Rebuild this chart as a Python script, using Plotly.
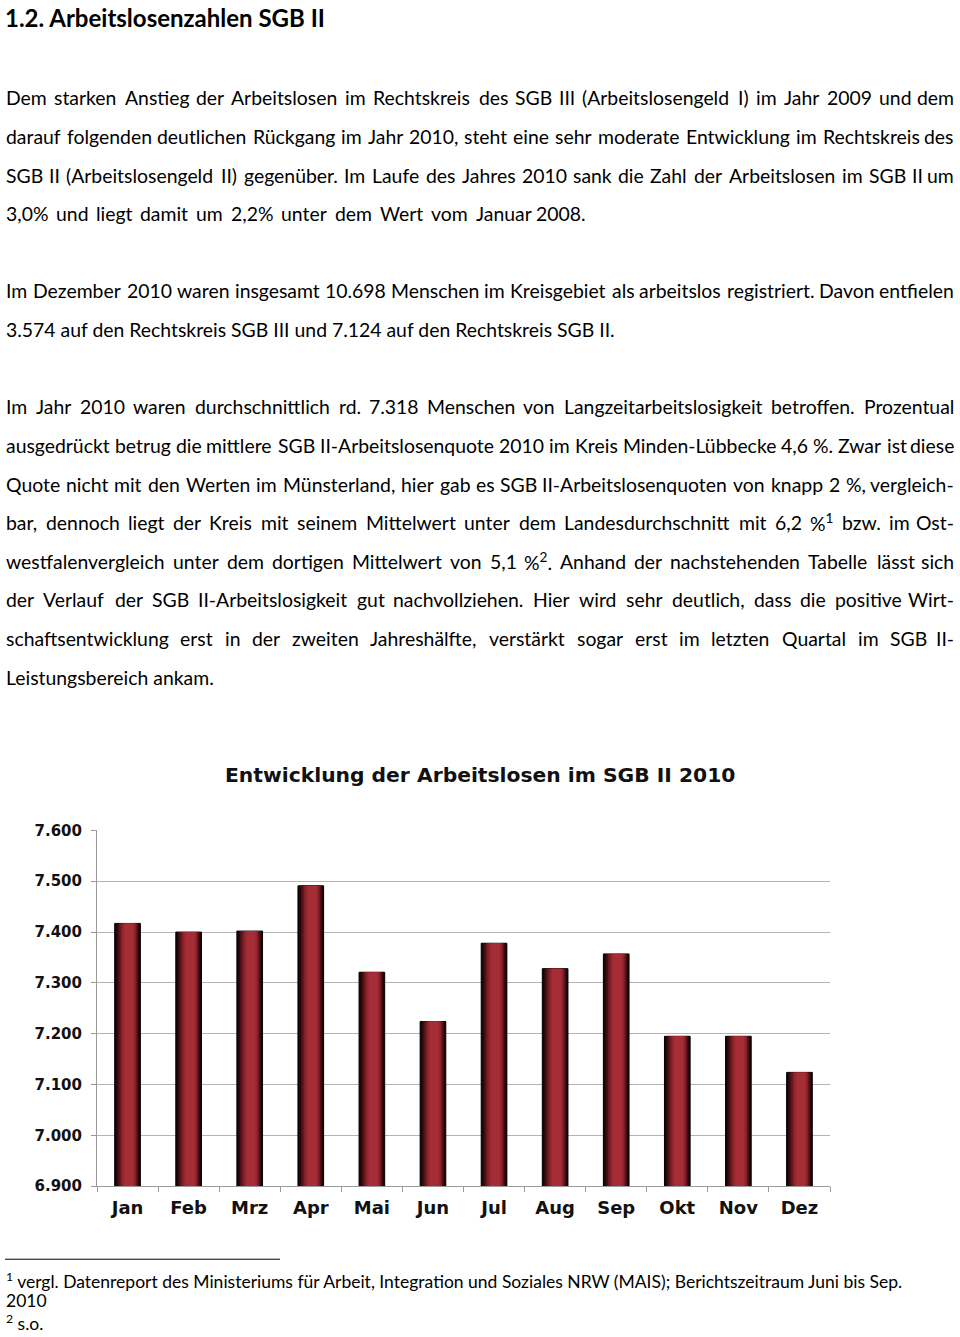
import re
import plotly.graph_objects as go

W, H = 960, 1337

# ---------------- data ----------------
months = ["Jan", "Feb", "Mrz", "Apr", "Mai", "Jun", "Jul", "Aug", "Sep", "Okt", "Nov", "Dez"]
arbeitslose_sgb2 = [7417, 7400, 7402, 7491, 7321, 7224, 7378, 7328, 7357, 7195, 7195, 7124]
y_tickvals = [6900, 7000, 7100, 7200, 7300, 7400, 7500, 7600]
y_ticktext = ["6.900", "7.000", "7.100", "7.200", "7.300", "7.400", "7.500", "7.600"]
chart_title = "Entwicklung der Arbeitslosen im SGB II 2010"

heading = "1.2. Arbeitslosenzahlen SGB II"
# (text, justify target right edge or None)
body_lines = [
    ("Dem starken Anstieg der Arbeitslosen im Rechtskreis des SGB III (Arbeitslosengeld I) im Jahr 2009 und dem", 955),
    ("darauf folgenden deutlichen Rückgang im Jahr 2010, steht eine sehr moderate Entwicklung im Rechtskreis des", 955),
    ("SGB II (Arbeitslosengeld II) gegenüber. Im Laufe des Jahres 2010 sank die Zahl der Arbeitslosen im SGB II um", 955),
    ("3,0% und liegt damit um 2,2% unter dem Wert vom Januar 2008.", 587),
    None,
    ("Im Dezember 2010 waren insgesamt 10.698 Menschen im Kreisgebiet als arbeitslos registriert. Davon entfielen", 955),
    ("3.574 auf den Rechtskreis SGB III und 7.124 auf den Rechtskreis SGB II.", None),
    None,
    ("Im Jahr 2010 waren durchschnittlich rd. 7.318 Menschen von Langzeitarbeitslosigkeit betroffen. Prozentual", 955),
    ("ausgedrückt betrug die mittlere SGB II-Arbeitslosenquote 2010 im Kreis Minden-Lübbecke 4,6 %. Zwar ist diese", 955),
    ("Quote nicht mit den Werten im Münsterland, hier gab es SGB II-Arbeitslosenquoten von knapp 2 %, vergleich-", 955),
    ("bar, dennoch liegt der Kreis mit seinem Mittelwert unter dem Landesdurchschnitt mit 6,2 %<sup>1</sup> bzw. im Ost-", 955),
    ("westfalenvergleich unter dem dortigen Mittelwert von 5,1 %<sup>2</sup>. Anhand der nachstehenden Tabelle lässt sich", 955),
    ("der Verlauf der SGB II-Arbeitslosigkeit gut nachvollziehen. Hier wird sehr deutlich, dass die positive Wirt-", 955),
    ("schaftsentwicklung erst in der zweiten Jahreshälfte, verstärkt sogar erst im letzten Quartal im SGB II-", 955),
    ("Leistungsbereich ankam.", None),
]
footnotes = [
    "<sup>1</sup> vergl. Datenreport des Ministeriums für Arbeit, Integration und Soziales NRW (MAIS); Berichtszeitraum Juni bis Sep.",
    "2010",
    "<sup>2</sup> s.o.",
]

# ---------------- helpers ----------------
# the page photo shows the figure slightly shifted/compressed vertically;
# positions below are given in target-picture pixels and converted here.
SY, OY = 0.987, 8.2


def px(x):
    return x / W


def py(y):
    return 1 - ((y - OY) / SY) / H


LOWER = dict(a=.50, b=.56, c=.47, d=.56, e=.53, f=.33, g=.51, h=.56, i=.24, j=.24, k=.51, l=.24,
             m=.84, n=.56, o=.57, p=.56, q=.56, r=.37, s=.43, t=.36, u=.56, v=.52, w=.78, x=.49,
             y=.52, z=.46)
UPPER = dict(A=.68, B=.64, C=.67, D=.75, E=.57, F=.55, G=.72, H=.75, I=.28, J=.39, K=.66, L=.50,
             M=.90, N=.75, O=.79, P=.59, Q=.79, R=.63, S=.52, T=.59, U=.72, V=.68, W=1.0, X=.66,
             Y=.63, Z=.61)
OTHER = {".": .21, ",": .22, "%": .84, "(": .30, ")": .30, "-": .36, ";": .22, " ": .19,
         "ü": .56, "ä": .50, "ö": .57, "Ü": .72}


def char_w(ch):
    if ch in LOWER:
        return LOWER[ch]
    if ch in UPPER:
        return UPPER[ch]
    if ch.isdigit():
        return .58
    return OTHER.get(ch, .5)


def text_w(s, size):
    total = 0.0
    parts = re.split(r"(<sup>.*?</sup>)", s)
    for p in parts:
        if p.startswith("<sup>"):
            inner = p[5:-6]
            total += sum(char_w(c) for c in inner) * size * 0.7
        else:
            total += sum(char_w(c) for c in p) * size
    return total


BODY_FONT = dict(family="Lato, 'Open Sans', sans-serif", size=19.4, color="#000000")
LEFT = 5

annotations = []


def add_text(text, x, y, font, xanchor="left"):
    annotations.append(dict(text=text, x=px(x), y=py(y), xref="paper", yref="paper",
                            xanchor=xanchor, yanchor="middle", showarrow=False,
                            font=font, borderpad=0))


# heading
add_text(heading, 4, 17, dict(family="Lato, sans-serif", size=24, color="#000000", weight="bold"))

# body lines
y0, step = 97, 38.65
row = 0
for item in body_lines:
    y = y0 + row * step
    row += 1
    if item is None:
        continue
    text, right = item
    if right is None:
        add_text(text, LEFT, y, BODY_FONT)
        continue
    words = text.split(" ")
    widths = [text_w(w, BODY_FONT["size"]) for w in words]
    gap = (right - LEFT - sum(widths)) / (len(words) - 1)
    xpos = LEFT
    for i, w in enumerate(words):
        if i == len(words) - 1:
            add_text(w, right, y, BODY_FONT, xanchor="right")
        else:
            add_text(w, xpos, y, BODY_FONT)
        xpos += widths[i] + gap

# footnotes
FOOT_FONT = dict(family="Lato, sans-serif", size=17.5, color="#000000")
for t, y in zip(footnotes, [1280, 1300.5, 1322]):
    add_text(t, LEFT, y, FOOT_FONT)

CHART_FONT = "DejaVu Sans, Liberation Sans, Arial, sans-serif"
# chart title
add_text(chart_title, 480, 775,
         dict(family=CHART_FONT, size=20.3, color="#111111", weight="bold"),
         xanchor="center")

# ---------------- chart ----------------
fig = go.Figure()

bar_w = 0.42
# (left fraction, right fraction, colour) – simulated cylinder shading
layers = [
    (0.00, 1.00, "#150506"),
    (0.06, 0.95, "#2c090c"),
    (0.12, 0.91, "#4a1015"),
    (0.18, 0.87, "#67171d"),
    (0.24, 0.83, "#822027"),
    (0.30, 0.79, "#96262e"),
    (0.37, 0.73, "#a42d36"),
]
for k, (l, r, c) in enumerate(layers):
    fig.add_trace(go.Bar(
        x=months, y=arbeitslose_sgb2,
        width=bar_w * (r - l), offset=-bar_w / 2 + bar_w * l,
        marker=dict(color=c, line=dict(color="#000000", width=1 if k == 0 else 0)),
        showlegend=False, hoverinfo="x+y" if k == 0 else "skip",
    ))

fig.update_layout(
    width=W, height=H,
    margin=dict(l=0, r=0, t=0, b=0),
    paper_bgcolor="white", plot_bgcolor="white",
    barmode="overlay",
    annotations=annotations,
    shapes=[dict(type="line", xref="paper", yref="paper",
                 x0=px(5), x1=px(280), y0=py(1259), y1=py(1259),
                 line=dict(color="#000000", width=1))],
    xaxis=dict(domain=[px(97), px(830)], showline=True, linecolor="#9a9a9a", linewidth=1,
               ticks="outside", tickson="boundaries", ticklen=5, tickcolor="#9a9a9a",
               showgrid=False, zeroline=False,
               tickfont=dict(family=CHART_FONT, size=18, color="#111111", weight="bold"),
               ticklabelstandoff=5),
    yaxis=dict(domain=[py(1186), py(830)], range=[6900, 7600],
               tickvals=y_tickvals, ticktext=y_ticktext,
               showline=True, linecolor="#9a9a9a", linewidth=1,
               showgrid=True, gridcolor="#b4b4b4", gridwidth=1, zeroline=False,
               ticks="outside", ticklen=5, tickcolor="#9a9a9a",
               tickfont=dict(family=CHART_FONT, size=15, color="#111111", weight="bold"),
               ticklabelstandoff=6),
)

page_css = (
    "document.documentElement.style.margin='0';document.body.style.margin='0';"
    "var gd=document.getElementById('{plot_id}');"
    "gd.style.position='absolute';gd.style.left='0px';gd.style.top='0px';"
    "document.documentElement.style.overflow='hidden';document.body.style.overflow='hidden';"
)
fig.write_html("out.html", post_script=page_css, config={"displayModeBar": False})
